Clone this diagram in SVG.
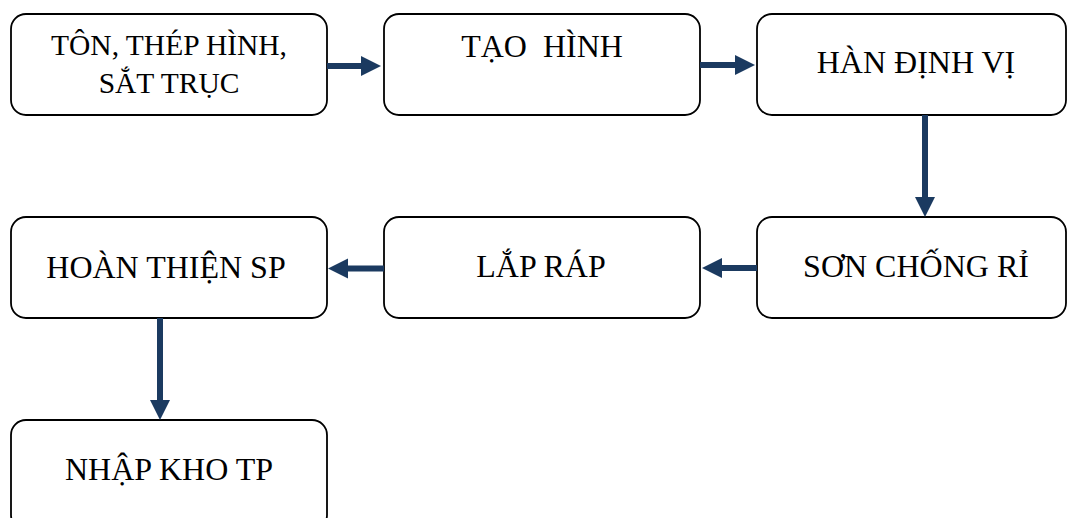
<svg xmlns="http://www.w3.org/2000/svg" width="1067" height="518" viewBox="0 0 1067 518">
  <style>
    .box { fill: #ffffff; stroke: #000000; stroke-width: 1.8; }
    .label { font-size: 32px; fill: #000000; text-anchor: middle; }
    .small { font-size: 29.5px; }
    .flow { stroke: #1b3a60; stroke-width: 6; fill: none; marker-end: url(#head); }
  </style>
  <defs>
    <marker id="head" markerUnits="userSpaceOnUse" markerWidth="20" markerHeight="20" refX="0" refY="10" orient="auto" overflow="visible">
      <path d="M0,0 L20,10 L0,20 Z" fill="#1b3a60"/>
    </marker>
  </defs>
  <rect width="1067" height="518" fill="#ffffff"/>

  <g font-family="Liberation Serif, Tinos, DejaVu Serif, serif">
    <g id="node-ton-thep">
      <rect class="box" x="11" y="14" width="316" height="101" rx="15"/>
      <text class="label small" x="169" y="55">TÔN, THÉP HÌNH,</text>
      <text class="label small" x="169" y="93">SẮT TRỤC</text>
    </g>
    <g id="node-tao-hinh">
      <rect class="box" x="384" y="14" width="316" height="101" rx="15"/>
      <text class="label" x="542" y="57" xml:space="preserve">TẠO  HÌNH</text>
    </g>
    <g id="node-han-dinh-vi">
      <rect class="box" x="757" y="14" width="309" height="101" rx="15"/>
      <text class="label" x="916" y="73">HÀN ĐỊNH VỊ</text>
    </g>
    <g id="node-son-chong-ri">
      <rect class="box" x="757" y="217" width="309" height="101" rx="15"/>
      <text class="label" x="916" y="277">SƠN CHỐNG RỈ</text>
    </g>
    <g id="node-lap-rap">
      <rect class="box" x="384" y="217" width="316" height="101" rx="15"/>
      <text class="label" x="541" y="277">LẮP RÁP</text>
    </g>
    <g id="node-hoan-thien">
      <rect class="box" x="11" y="217" width="316" height="101" rx="15"/>
      <text class="label" x="166" y="278">HOÀN THIỆN SP</text>
    </g>
    <g id="node-nhap-kho">
      <rect class="box" x="11" y="420" width="316" height="110" rx="15"/>
      <text class="label" x="169" y="480">NHẬP KHO TP</text>
    </g>
  </g>

  <g id="connectors">
    <line class="flow" x1="327" y1="66" x2="361" y2="66"/>
    <line class="flow" x1="700" y1="65" x2="735" y2="65"/>
    <line class="flow" x1="925" y1="115" x2="925" y2="197"/>
    <line class="flow" x1="757" y1="268" x2="722" y2="268"/>
    <line class="flow" x1="384" y1="268.5" x2="348" y2="268.5"/>
    <line class="flow" x1="160" y1="318" x2="160" y2="400"/>
  </g>
</svg>
